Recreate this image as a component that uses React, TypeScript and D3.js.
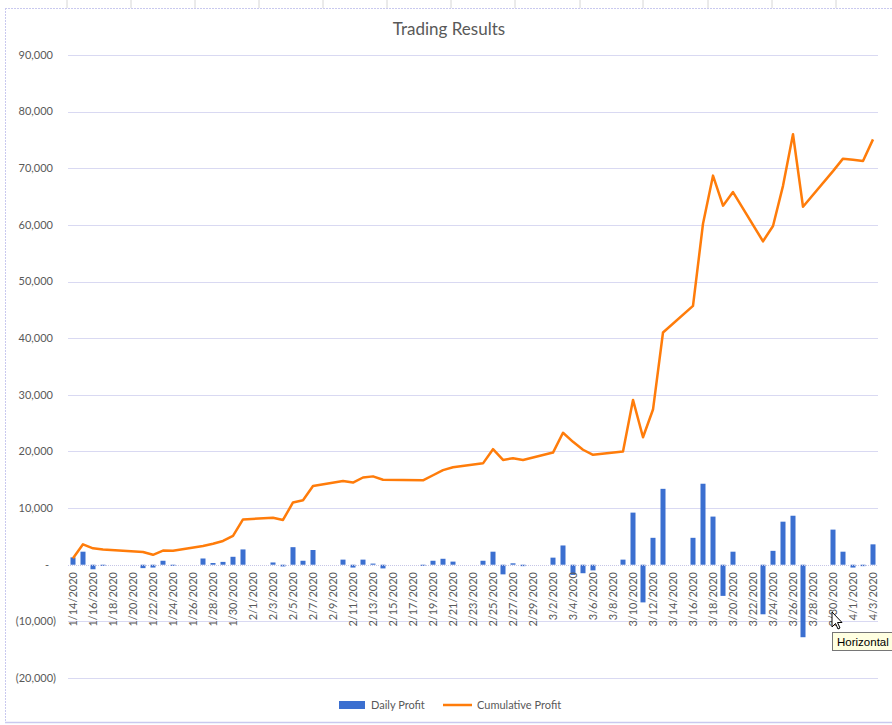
import React from "react";
import * as d3 from "d3";

const tradeDates = [
  "2020-01-14","2020-01-15","2020-01-16","2020-01-17","2020-01-21","2020-01-22","2020-01-23","2020-01-24",
  "2020-01-27","2020-01-28","2020-01-29","2020-01-30","2020-01-31",
  "2020-02-03","2020-02-04","2020-02-05","2020-02-06","2020-02-07",
  "2020-02-10","2020-02-11","2020-02-12","2020-02-13","2020-02-14",
  "2020-02-18","2020-02-19","2020-02-20","2020-02-21",
  "2020-02-24","2020-02-25","2020-02-26","2020-02-27","2020-02-28",
  "2020-03-02","2020-03-03","2020-03-04","2020-03-05","2020-03-06",
  "2020-03-09","2020-03-10","2020-03-11","2020-03-12","2020-03-13",
  "2020-03-16","2020-03-17","2020-03-18","2020-03-19","2020-03-20",
  "2020-03-23","2020-03-24","2020-03-25","2020-03-26","2020-03-27",
  "2020-03-30","2020-03-31","2020-04-01","2020-04-02","2020-04-03",
];

const dailyProfit = [
  1300, 2300, -800, -200, -600, -500, 700, -200,
  1100, 300, 500, 1400, 2700,
  400, -300, 3100, 700, 2600,
  900, -500, 900, 200, -650,
  -200, 700, 1050, 550,
  700, 2300, -1700, 250, -250,
  1250, 3400, -1800, -1500, -1000,
  900, 9200, -6650, 4750, 13400,
  4750, 14300, 8500, -5500, 2300,
  -8750, 2450, 7600, 8650, -12800,
  6200, 2300, -500, -250, 3600,
];

const cumulativeProfit = [
  1150, 3600, 2900, 2700, 2260, 1750, 2500, 2450,
  3300, 3700, 4200, 5100, 8000,
  8300, 7900, 11000, 11400, 13900,
  14800, 14500, 15400, 15600, 15000,
  14900, 15800, 16700, 17200,
  17900, 20400, 18500, 18800, 18500,
  19800, 23300, 21700, 20300, 19400,
  20000, 29100, 22500, 27400, 41000,
  45700, 60200, 68700, 63400, 65800,
  57100, 59800, 66900, 76000, 63200,
  69500, 71700, 71500, 71300, 75100,
];

const yTickValues = [-20000, -10000, 0, 10000, 20000, 30000, 40000, 50000, 60000, 70000, 80000, 90000];
const axisStart = "2020-01-14";
const axisEnd = "2020-04-03";
const titleText = "Trading Results";
const seriesNames = ["Daily Profit", "Cumulative Profit"];
const tooltipText = "Horizontal";

const W = 892;
const H = 725;
const FONT = "Lato, 'Open Sans', sans-serif";
const TEXT = "#595959";
const GRID = "#d9d9f2";
const BLUE = "#3b6fd0";
const ORANGE = "#ff7c0a";

export default function App() {
  const parse = d3.utcParse("%Y-%m-%d");
  const dates = tradeDates.map((d) => parse(d) as Date);
  const start = parse(axisStart) as Date;
  const end = parse(axisEnd) as Date;
  const halfDay = 12 * 3600 * 1000;

  const x = d3
    .scaleUtc()
    .domain([new Date(+start - halfDay), new Date(+end + halfDay)])
    .range([68, 878]);
  const y = d3.scaleLinear().domain([-20000, 90000]).range([678, 55]);

  const barW = 5;
  const fmt = d3.format(",");
  const yLabel = (v: number) => (v === 0 ? "-" : v < 0 ? `(${fmt(-v)})` : fmt(v));

  const labelDays = d3.utcDay.range(start, new Date(+end + halfDay), 1).filter((_, i) => i % 2 === 0);
  const labelFmt = (d: Date) => `${d.getUTCMonth() + 1}/${d.getUTCDate()}/${d.getUTCFullYear()}`;

  const line = d3
    .line<number>()
    .x((_, i) => x(dates[i]))
    .y((v) => y(v));

  const colSeps = [67, 131, 195, 259, 323, 387, 451, 515, 580, 643, 708, 772, 836];

  return (
    <svg
      width={W}
      height={H}
      style={{ position: "absolute", left: 0, top: 0, background: "#fff" }}
      fontFamily={FONT}
    >
      {colSeps.map((cx) => (
        <line key={cx} x1={cx} x2={cx} y1={0} y2={8} stroke="#d6d6d6" strokeWidth={1} />
      ))}
      <line x1={5} x2={W} y1={8.5} y2={8.5} stroke="#c9c9ef" strokeWidth={1} strokeDasharray="2,1" />
      <line x1={5.5} x2={5.5} y1={8} y2={722} stroke="#c9c9ef" strokeWidth={1} strokeDasharray="2,1" />
      <line x1={5} x2={W} y1={722.5} y2={722.5} stroke="#c9c9ef" strokeWidth={1.5} />

      <text x={449} y={35} textAnchor="middle" fontSize={17} fill={TEXT}>
        {titleText}
      </text>

      {yTickValues.map((v) => (
        <g key={v}>
          {v !== 0 && (
            <line x1={68} x2={878} y1={Math.round(y(v)) + 0.5} y2={Math.round(y(v)) + 0.5} stroke={GRID} strokeWidth={1} />
          )}
          <text
            x={v === 0 ? 47 : v < 0 ? 56 : 53}
            y={y(v)}
            dy="0.35em"
            textAnchor={v === 0 ? "middle" : "end"}
            fontSize={11}
            fill={TEXT}
          >
            {yLabel(v)}
          </text>
        </g>
      ))}

      {dailyProfit.map((v, i) => (
        <rect
          key={tradeDates[i]}
          x={x(dates[i]) - barW / 2}
          y={Math.min(y(v), y(0))}
          width={barW}
          height={Math.abs(y(v) - y(0))}
          fill={BLUE}
        />
      ))}

      <line x1={68} x2={878} y1={Math.round(y(0)) + 0.5} y2={Math.round(y(0)) + 0.5} stroke="#c6c6e6" strokeWidth={1} strokeDasharray="1,1" />

      <path d={line(cumulativeProfit) || ""} fill="none" stroke={ORANGE} strokeWidth={2.5} strokeLinejoin="round" />

      {labelDays.map((d) => (
        <text
          key={+d}
          transform={`translate(${x(d)},${572}) rotate(-90)`}
          dy="0.35em"
          textAnchor="end"
          fontSize={11}
          fill={TEXT}
        >
          {labelFmt(d)}
        </text>
      ))}

      <rect x={339} y={701} width={26} height={8} fill={BLUE} />
      <text x={371} y={705} dy="0.35em" fontSize={11} fill={TEXT}>
        {seriesNames[0]}
      </text>
      <line x1={443} x2={472} y1={705} y2={705} stroke={ORANGE} strokeWidth={2.5} />
      <text x={477} y={705} dy="0.35em" fontSize={11} fill={TEXT}>
        {seriesNames[1]}
      </text>

      <rect x={832.5} y={632.5} width={70} height={18} fill="#ffffe1" stroke="#767676" strokeWidth={1} />
      <text x={837} y={645.5} fontSize={11.5} fill="#000" fontFamily="'Liberation Sans', Arial, sans-serif">
        {tooltipText}
      </text>
      <path d="M832,612 L832,627 L835.5,623.5 L838,629 L840,628 L837.5,622.5 L842,622.5 Z" fill="#fff" stroke="#000" strokeWidth={1} />
    </svg>
  );
}
